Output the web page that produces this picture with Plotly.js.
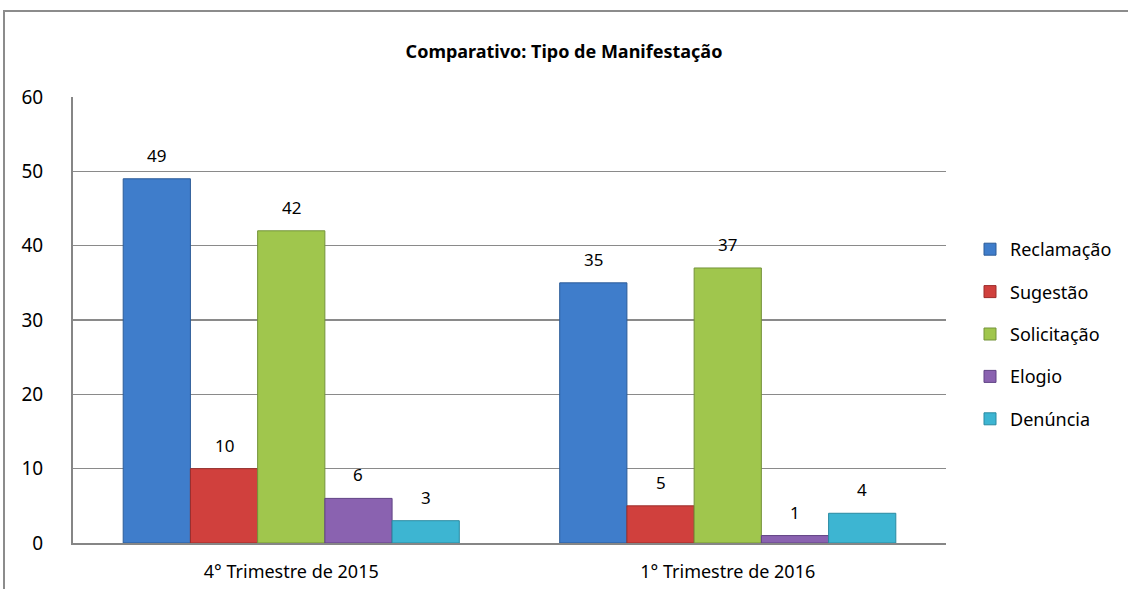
<!DOCTYPE html>
<html>
<head>
<meta charset="utf-8">
<script src="https://cdn.plot.ly/plotly-3.0.1.min.js"></script>
<style>
  html, body { margin: 0; padding: 0; background: #fff; }
  #wrap { position: relative; width: 1128px; height: 589px; }
  #chart { position: absolute; left: 0; top: 0; width: 1128px; height: 589px; }
  #frame { position: absolute; left: 3px; top: 10px; width: 1130px; height: 590px;
           border-top: 2px solid #8c8c8c; border-left: 2px solid #8c8c8c; pointer-events: none; }
</style>
</head>
<body>
<div id="wrap">
  <div id="chart"></div>
  <div id="frame"></div>
</div>
<script>
const categories = ["4° Trimestre de 2015", "1° Trimestre de 2016"];
const seriesNames = ["Reclamação", "Sugestão", "Solicitação", "Elogio", "Denúncia"];
const reclamacao = [49, 35];
const sugestao = [10, 5];
const solicitacao = [42, 37];
const elogio = [6, 1];
const denuncia = [3, 4];
const seriesValues = [reclamacao, sugestao, solicitacao, elogio, denuncia];
const yTicks = [0, 10, 20, 30, 40, 50, 60];

const colors = ["#3f7dcb", "#d0403d", "#a0c64d", "#8a62b0", "#3db5d2"];
const edges = ["#2c5c98", "#9c2c2a", "#74933a", "#604384", "#2a8aa2"];
const FONT = "Noto Sans, Open Sans, DejaVu Sans, sans-serif";

const traces = seriesNames.map((name, i) => ({
  type: "bar",
  name: name,
  x: categories,
  y: seriesValues[i],
  legendgroup: "g" + i,
  marker: { color: colors[i], line: { color: edges[i], width: 1 } },
  hoverinfo: "skip"
}));

// data labels above each bar, positioned through the axis scales
const nSeries = seriesNames.length;
const plotW = 1128 - 73 - 182;
const catW = plotW / categories.length;
const bargap = 0.23;
const barW = catW * (1 - bargap) / nSeries;
const annotations = [];
seriesValues.forEach((vals, i) => {
  vals.forEach((v, j) => {
    annotations.push({
      x: categories[j], y: v, xref: "x", yref: "y",
      text: String(v), showarrow: false,
      xshift: (i - (nSeries - 1) / 2) * barW,
      yanchor: "bottom", yshift: 10,
      font: { family: FONT, size: 17, color: "#000" }
    });
  });
});

const layout = {
  width: 1128, height: 589,
  margin: { l: 73, r: 182, t: 97, b: 46 },
  paper_bgcolor: "rgba(0,0,0,0)",
  plot_bgcolor: "#fff",
  barmode: "group",
  bargap: bargap,
  bargroupgap: 0,
  title: {
    text: "<b>Comparativo: Tipo de Manifestação</b>",
    font: { family: FONT, size: 18, color: "#000" },
    x: 0.5, xref: "container", xanchor: "center",
    y: 1 - 52 / 589, yref: "container", yanchor: "middle"
  },
  xaxis: {
    type: "category",
    showgrid: false,
    showline: true, linecolor: "#868686", linewidth: 2,
    ticks: "",
    tickfont: { family: FONT, size: 18, color: "#000" },
    ticklabelstandoff: 11,
    fixedrange: true
  },
  yaxis: {
    range: [0, 60],
    tickvals: yTicks,
    ticktext: yTicks.map(String),
    showgrid: true, gridcolor: "#8a8a8a", gridwidth: 1.5,
    showline: true, linecolor: "#868686", linewidth: 2,
    zeroline: false,
    ticks: "",
    tickfont: { family: FONT, size: 19, color: "#000" },
    ticklabelstandoff: 24,
    fixedrange: true
  },
  showlegend: true,
  legend: {
    x: 970 / 1128, xref: "container", xanchor: "left",
    y: 1 - 334 / 589, yref: "container", yanchor: "middle",
    traceorder: "grouped",
    tracegroupgap: 16,
    font: { family: FONT, size: 18, color: "#000" },
    itemwidth: 30,
    bgcolor: "rgba(0,0,0,0)"
  },
  annotations: annotations
};

Plotly.newPlot("chart", traces, layout, { displayModeBar: false, staticPlot: true });
</script>
</body>
</html>
